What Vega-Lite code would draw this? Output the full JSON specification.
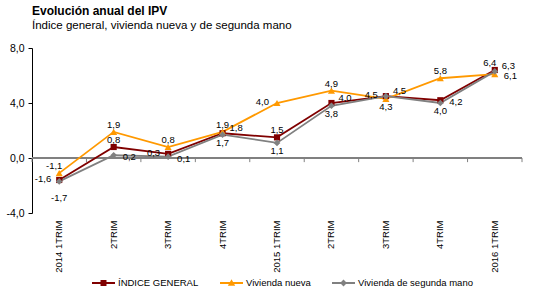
{
  "$schema": "https://vega.github.io/schema/vega-lite/v6.json",
  "width": 490,
  "height": 165,
  "autosize": "none",
  "padding": {"left": 32, "top": 48, "right": 20, "bottom": 87},
  "title": {
    "text": "Evolución anual del IPV",
    "subtitle": "Índice general, vivienda nueva y de segunda mano",
    "anchor": "start",
    "frame": "group",
    "font": "Liberation Sans",
    "fontSize": 12,
    "fontWeight": "bold",
    "color": "#000000",
    "subtitleFont": "Liberation Sans",
    "subtitleFontSize": 11.5,
    "subtitleColor": "#000000",
    "subtitlePadding": 2,
    "offset": 11
  },
  "data": {
    "values": [
      {"periodo": "2014 1TRIM", "serie": "ÍNDICE GENERAL", "valor": -1.6},
      {"periodo": "2014 2TRIM", "serie": "ÍNDICE GENERAL", "valor": 0.8},
      {"periodo": "2014 3TRIM", "serie": "ÍNDICE GENERAL", "valor": 0.3},
      {"periodo": "2014 4TRIM", "serie": "ÍNDICE GENERAL", "valor": 1.8},
      {"periodo": "2015 1TRIM", "serie": "ÍNDICE GENERAL", "valor": 1.5},
      {"periodo": "2015 2TRIM", "serie": "ÍNDICE GENERAL", "valor": 4.0},
      {"periodo": "2015 3TRIM", "serie": "ÍNDICE GENERAL", "valor": 4.5},
      {"periodo": "2015 4TRIM", "serie": "ÍNDICE GENERAL", "valor": 4.2},
      {"periodo": "2016 1TRIM", "serie": "ÍNDICE GENERAL", "valor": 6.4},
      {"periodo": "2014 1TRIM", "serie": "Vivienda nueva", "valor": -1.1},
      {"periodo": "2014 2TRIM", "serie": "Vivienda nueva", "valor": 1.9},
      {"periodo": "2014 3TRIM", "serie": "Vivienda nueva", "valor": 0.8},
      {"periodo": "2014 4TRIM", "serie": "Vivienda nueva", "valor": 1.9},
      {"periodo": "2015 1TRIM", "serie": "Vivienda nueva", "valor": 4.0},
      {"periodo": "2015 2TRIM", "serie": "Vivienda nueva", "valor": 4.9},
      {"periodo": "2015 3TRIM", "serie": "Vivienda nueva", "valor": 4.3},
      {"periodo": "2015 4TRIM", "serie": "Vivienda nueva", "valor": 5.8},
      {"periodo": "2016 1TRIM", "serie": "Vivienda nueva", "valor": 6.1},
      {"periodo": "2014 1TRIM", "serie": "Vivienda de segunda mano", "valor": -1.7},
      {"periodo": "2014 2TRIM", "serie": "Vivienda de segunda mano", "valor": 0.2},
      {"periodo": "2014 3TRIM", "serie": "Vivienda de segunda mano", "valor": 0.1},
      {"periodo": "2014 4TRIM", "serie": "Vivienda de segunda mano", "valor": 1.7},
      {"periodo": "2015 1TRIM", "serie": "Vivienda de segunda mano", "valor": 1.1},
      {"periodo": "2015 2TRIM", "serie": "Vivienda de segunda mano", "valor": 3.8},
      {"periodo": "2015 3TRIM", "serie": "Vivienda de segunda mano", "valor": 4.5},
      {"periodo": "2015 4TRIM", "serie": "Vivienda de segunda mano", "valor": 4.0},
      {"periodo": "2016 1TRIM", "serie": "Vivienda de segunda mano", "valor": 6.3}
    ]
  },
  "encoding": {
    "x": {
      "field": "periodo",
      "type": "ordinal",
      "sort": ["2014 1TRIM", "2014 2TRIM", "2014 3TRIM", "2014 4TRIM", "2015 1TRIM", "2015 2TRIM", "2015 3TRIM", "2015 4TRIM", "2016 1TRIM"],
      "scale": {"type": "band", "paddingInner": 0, "paddingOuter": 0},
      "axis": {
        "orient": "bottom",
        "title": null,
        "domain": false,
        "ticks": false,
        "labelAngle": -90,
        "labelPadding": 7,
        "labelFont": "Liberation Sans",
        "labelFontSize": 9.5,
        "labelColor": "#000000",
        "labelExpr": "indexof(datum.value, '1TRIM') >= 0 ? datum.value : split(datum.value, ' ')[1]"
      }
    },
    "y": {
      "field": "valor",
      "type": "quantitative",
      "scale": {"domain": [-4, 8], "nice": false, "zero": false},
      "axis": {
        "title": null,
        "values": [-4, 0, 4, 8],
        "format": ".1f",
        "grid": false,
        "domain": true,
        "domainColor": "#000000",
        "domainWidth": 1,
        "ticks": true,
        "tickSize": 4,
        "tickColor": "#000000",
        "labelPadding": 4,
        "labelFont": "Liberation Sans",
        "labelFontSize": 10.5,
        "labelColor": "#000000"
      }
    }
  },
  "layer": [
    {
      "mark": {"type": "rule", "color": "#808080", "strokeWidth": 2},
      "encoding": {"x": null, "y": {"datum": 0}}
    },
    {
      "transform": [{"filter": "datum.serie == 'ÍNDICE GENERAL'"}],
      "mark": {"type": "rule", "color": "#808080", "strokeWidth": 1},
      "encoding": {
        "x": {"field": "periodo", "type": "ordinal", "bandPosition": 0},
        "y": {"datum": 0},
        "y2": {"datum": -0.3}
      }
    },
    {
      "transform": [{"filter": "datum.serie == 'ÍNDICE GENERAL' && datum.periodo == '2016 1TRIM'"}],
      "mark": {"type": "rule", "color": "#808080", "strokeWidth": 1},
      "encoding": {
        "x": {"field": "periodo", "type": "ordinal", "bandPosition": 1},
        "y": {"datum": 0},
        "y2": {"datum": -0.3}
      }
    },
    {
      "mark": {"type": "line", "strokeWidth": 1.8},
      "encoding": {
        "color": {
          "field": "serie",
          "type": "nominal",
          "scale": {"domain": ["ÍNDICE GENERAL", "Vivienda nueva", "Vivienda de segunda mano"], "range": ["#800000", "#FF9900", "#808080"]}
        },
        "order": {"field": "periodo"}
      }
    },
    {
      "transform": [{"filter": "datum.serie == 'ÍNDICE GENERAL'"}],
      "mark": {"type": "point", "shape": "square", "filled": true, "size": 38, "opacity": 1},
      "encoding": {"color": {"field": "serie", "type": "nominal"}}
    },
    {
      "transform": [{"filter": "datum.serie == 'Vivienda nueva'"}],
      "mark": {"type": "point", "shape": "triangle-up", "filled": true, "size": 50, "opacity": 1},
      "encoding": {"color": {"field": "serie", "type": "nominal"}}
    },
    {
      "transform": [{"filter": "datum.serie == 'Vivienda de segunda mano'"}],
      "mark": {"type": "point", "shape": "diamond", "filled": true, "size": 45, "opacity": 1},
      "encoding": {"color": {"field": "serie", "type": "nominal"}}
    },
    {
      "mark": {"type": "point", "filled": true, "opacity": 0},
      "encoding": {
        "color": {
          "field": "serie",
          "type": "nominal",
          "legend": {
            "orient": "none",
            "legendX": 60,
            "legendY": 223.5,
            "direction": "horizontal",
            "title": null,
            "padding": 0,
            "symbolSize": 529,
            "symbolStrokeWidth": 0,
            "symbolOpacity": 1,
            "labelFont": "Liberation Sans",
            "labelFontSize": 9.5,
            "labelColor": "#000000",
            "labelOffset": 3,
            "columnPadding": 21
          }
        },
        "shape": {
          "field": "serie",
          "type": "nominal",
          "scale": {
            "domain": ["ÍNDICE GENERAL", "Vivienda nueva", "Vivienda de segunda mano"],
            "range": [
              "M-1,-0.08H1V0.08H-1Z M-0.26,-0.26H0.26V0.26H-0.26Z",
              "M-1,-0.08H1V0.08H-1Z M0,-0.32L0.32,0.24H-0.32Z",
              "M-1,-0.08H1V0.08H-1Z M0,-0.3L0.3,0L0,0.3L-0.3,0Z"
            ]
          }
        }
      }
    },
    {
      "transform": [{"filter": "indexof(['Vivienda nueva|2014 2TRIM','Vivienda nueva|2014 3TRIM','Vivienda nueva|2014 4TRIM','Vivienda nueva|2015 2TRIM','Vivienda nueva|2015 4TRIM','ÍNDICE GENERAL|2014 2TRIM','ÍNDICE GENERAL|2015 1TRIM'], datum.serie + '|' + datum.periodo) >= 0"}],
      "mark": {"type": "text", "font": "Liberation Sans", "fontSize": 9.5, "color": "#000000", "align": "center", "baseline": "alphabetic", "dy": -4},
      "encoding": {"text": {"field": "valor", "type": "quantitative", "format": ".1f"}}
    },
    {
      "transform": [{"filter": "indexof(['Vivienda nueva|2014 1TRIM','ÍNDICE GENERAL|2016 1TRIM'], datum.serie + '|' + datum.periodo) >= 0"}],
      "mark": {"type": "text", "font": "Liberation Sans", "fontSize": 9.5, "color": "#000000", "align": "center", "baseline": "alphabetic", "dx": -5, "dy": -4},
      "encoding": {"text": {"field": "valor", "type": "quantitative", "format": ".1f"}}
    },
    {
      "transform": [{"filter": "indexof(['Vivienda de segunda mano|2014 4TRIM','Vivienda de segunda mano|2015 1TRIM','Vivienda de segunda mano|2015 2TRIM','Vivienda de segunda mano|2015 4TRIM','Vivienda nueva|2015 3TRIM'], datum.serie + '|' + datum.periodo) >= 0"}],
      "mark": {"type": "text", "font": "Liberation Sans", "fontSize": 9.5, "color": "#000000", "align": "center", "baseline": "top", "dy": 3},
      "encoding": {"text": {"field": "valor", "type": "quantitative", "format": ".1f"}}
    },
    {
      "transform": [{"filter": "datum.serie == 'Vivienda de segunda mano' && datum.periodo == '2014 1TRIM'"}],
      "mark": {"type": "text", "font": "Liberation Sans", "fontSize": 9.5, "color": "#000000", "align": "center", "baseline": "top", "dy": 12},
      "encoding": {"text": {"field": "valor", "type": "quantitative", "format": ".1f"}}
    },
    {
      "transform": [{"filter": "indexof(['Vivienda de segunda mano|2014 2TRIM','Vivienda de segunda mano|2014 3TRIM','ÍNDICE GENERAL|2015 4TRIM','Vivienda nueva|2016 1TRIM'], datum.serie + '|' + datum.periodo) >= 0"}],
      "mark": {"type": "text", "font": "Liberation Sans", "fontSize": 9.5, "color": "#000000", "align": "left", "baseline": "middle", "dx": 9, "dy": 2},
      "encoding": {"text": {"field": "valor", "type": "quantitative", "format": ".1f"}}
    },
    {
      "transform": [{"filter": "indexof(['ÍNDICE GENERAL|2014 4TRIM','ÍNDICE GENERAL|2015 2TRIM','Vivienda de segunda mano|2015 3TRIM','Vivienda de segunda mano|2016 1TRIM'], datum.serie + '|' + datum.periodo) >= 0"}],
      "mark": {"type": "text", "font": "Liberation Sans", "fontSize": 9.5, "color": "#000000", "align": "left", "baseline": "middle", "dx": 7, "dy": -5},
      "encoding": {"text": {"field": "valor", "type": "quantitative", "format": ".1f"}}
    },
    {
      "transform": [{"filter": "indexof(['ÍNDICE GENERAL|2014 1TRIM','Vivienda nueva|2015 1TRIM','ÍNDICE GENERAL|2014 3TRIM','ÍNDICE GENERAL|2015 3TRIM'], datum.serie + '|' + datum.periodo) >= 0"}],
      "mark": {"type": "text", "font": "Liberation Sans", "fontSize": 9.5, "color": "#000000", "align": "right", "baseline": "middle", "dx": -8, "dy": -1},
      "encoding": {"text": {"field": "valor", "type": "quantitative", "format": ".1f"}}
    }
  ],
  "config": {
    "view": {"stroke": null},
    "font": "Liberation Sans",
    "locale": {"number": {"decimal": ",", "thousands": ".", "grouping": [3], "currency": ["", " €"], "minus": "-"}}
  }
}
